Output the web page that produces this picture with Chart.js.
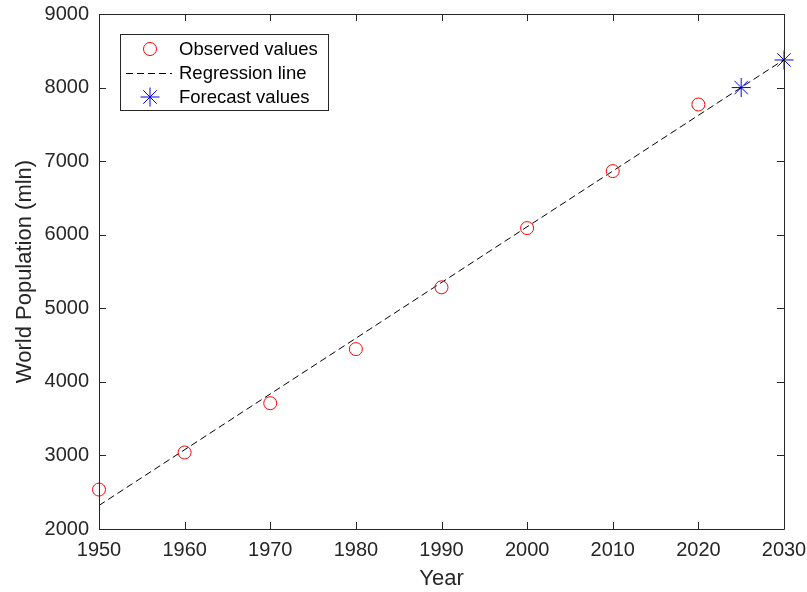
<!DOCTYPE html>
<html lang="en">
<head>
    <meta charset="UTF-8">
    <title>World Population Regression</title>
    <style>
        html, body {
            margin: 0;
            padding: 0;
            background: #fff;
        }
        #wrap {
            width: 807px;
            height: 592px;
        }
    </style>
</head>
<body>
    <div id="wrap"><canvas id="chart" width="807" height="592"></canvas></div>

    <script src="https://cdn.jsdelivr.net/npm/chart.js"></script>
    <script>
        // data
        const years = [1950, 1960, 1970, 1980, 1990, 2000, 2010, 2020];
        const observed = [2536, 3040, 3710, 4445, 5285, 6090, 6865, 7770];
        const regressionYears = [1950, 2030];
        const regressionValues = [2320, 8380];
        const forecastYears = [2025, 2030];
        const forecastValues = [8000, 8375];
        const xTicks = [1950, 1960, 1970, 1980, 1990, 2000, 2010, 2020, 2030];
        const yTicks = [2000, 3000, 4000, 5000, 6000, 7000, 8000, 9000];

        const FONT = "'Liberation Sans', Arial, sans-serif";
        const AXIS = '#262626';

        function pts(xs, ys) {
            return xs.map((x, i) => ({ x: x, y: ys[i] }));
        }

        // no extra room for edge labels, the plot box is fixed
        function noPad(s) {
            s.paddingTop = 0;
            s.paddingBottom = 0;
            s.paddingLeft = 0;
            s.paddingRight = 0;
        }

        // matlab style box with inward ticks
        const boxPlugin = {
            id: 'box',
            afterDatasetsDraw(chart) {
                const ctx = chart.ctx;
                const a = chart.chartArea;
                const xs = chart.scales.x, ys = chart.scales.y;
                const len = 7;
                ctx.save();
                ctx.strokeStyle = AXIS;
                ctx.lineWidth = 1;
                ctx.beginPath();
                ctx.rect(Math.round(a.left) + 0.5, Math.round(a.top) + 0.5,
                    Math.round(a.right - a.left), Math.round(a.bottom - a.top));
                xTicks.forEach(v => {
                    const px = Math.round(xs.getPixelForValue(v)) + 0.5;
                    ctx.moveTo(px, a.bottom); ctx.lineTo(px, a.bottom - len);
                    ctx.moveTo(px, a.top); ctx.lineTo(px, a.top + len);
                });
                yTicks.forEach(v => {
                    const py = Math.round(ys.getPixelForValue(v)) + 0.5;
                    ctx.moveTo(a.left, py); ctx.lineTo(a.left + len, py);
                    ctx.moveTo(a.right, py); ctx.lineTo(a.right - len, py);
                });
                ctx.stroke();
                ctx.restore();
            }
        };

        // legend box in the top left of the axes
        const legendPlugin = {
            id: 'boxLegend',
            afterDraw(chart) {
                const ctx = chart.ctx;
                const bx = 120.5, by = 34.5, bw = 208, bh = 76;
                ctx.save();
                ctx.fillStyle = '#fff';
                ctx.fillRect(bx, by, bw, bh);
                ctx.strokeStyle = AXIS;
                ctx.lineWidth = 1;
                ctx.strokeRect(bx, by, bw, bh);
                const rows = [49, 73, 97];
                chart.data.datasets.forEach((ds, i) => {
                    const y = rows[i];
                    if (ds.showLine) {
                        ctx.beginPath();
                        ctx.setLineDash(ds.borderDash);
                        ctx.strokeStyle = ds.borderColor;
                        ctx.lineWidth = ds.borderWidth;
                        ctx.moveTo(126, y + 0.5);
                        ctx.lineTo(172, y + 0.5);
                        ctx.stroke();
                        ctx.setLineDash([]);
                    } else {
                        ctx.strokeStyle = ds.pointBorderColor;
                        ctx.fillStyle = 'rgba(0,0,0,0)';
                        ctx.lineWidth = ds.pointBorderWidth;
                        Chart.helpers.drawPoint(ctx, {
                            pointStyle: ds.pointStyle,
                            radius: ds.pointRadius,
                            borderWidth: ds.pointBorderWidth,
                            rotation: 0
                        }, 150, y);
                    }
                    ctx.fillStyle = '#000';
                    ctx.font = '18.5px ' + FONT;
                    ctx.textBaseline = 'middle';
                    ctx.textAlign = 'left';
                    ctx.fillText(ds.label, 179, y + 1);
                });
                ctx.restore();
            }
        };

        const ctx = document.getElementById('chart').getContext('2d');
        new Chart(ctx, {
            type: 'scatter',
            data: {
                datasets: [{
                    label: 'Observed values',
                    data: pts(years, observed),
                    pointStyle: 'circle',
                    pointRadius: 6.5,
                    pointBorderWidth: 1,
                    pointBorderColor: '#ff0000',
                    pointBackgroundColor: 'rgba(0,0,0,0)',
                    showLine: false,
                    clip: false
                }, {
                    label: 'Regression line',
                    data: pts(regressionYears, regressionValues),
                    showLine: true,
                    borderColor: '#000',
                    borderWidth: 1,
                    borderDash: [7, 4],
                    pointRadius: 0,
                    fill: false
                }, {
                    label: 'Forecast values',
                    data: pts(forecastYears, forecastValues),
                    pointStyle: 'star',
                    pointRadius: 9.5,
                    pointBorderWidth: 1,
                    pointBorderColor: '#0000ff',
                    pointBackgroundColor: '#0000ff',
                    showLine: false,
                    clip: false
                }]
            },
            options: {
                responsive: false,
                animation: false,
                layout: { padding: { top: 14, right: 23, left: 0, bottom: 0 } },
                plugins: {
                    legend: { display: false },
                    tooltip: { enabled: false }
                },
                scales: {
                    x: {
                        type: 'linear',
                        min: 1950,
                        max: 2030,
                        afterBuildTicks: s => { s.ticks = xTicks.map(v => ({ value: v })); },
                        afterFit: s => { s.height = 63; noPad(s); },
                        grid: { display: false, drawTicks: false },
                        border: { display: false },
                        ticks: {
                            color: AXIS,
                            font: { family: FONT, size: 20 },
                            padding: 9,
                            maxRotation: 0,
                            callback: v => String(v)
                        },
                        title: {
                            display: true,
                            text: 'Year',
                            color: AXIS,
                            font: { family: FONT, size: 22 },
                            padding: { top: 4, bottom: 0 }
                        }
                    },
                    y: {
                        min: 2000,
                        max: 9000,
                        afterBuildTicks: s => { s.ticks = yTicks.map(v => ({ value: v })); },
                        afterFit: s => { s.width = 99; noPad(s); },
                        grid: { display: false, drawTicks: false },
                        border: { display: false },
                        ticks: {
                            color: AXIS,
                            font: { family: FONT, size: 20 },
                            padding: 10,
                            callback: v => String(v)
                        },
                        title: {
                            display: true,
                            text: 'World Population (mln)',
                            color: AXIS,
                            font: { family: FONT, size: 22 },
                            padding: { top: 12, bottom: 0 }
                        }
                    }
                }
            },
            plugins: [boxPlugin, legendPlugin]
        });
    </script>
</body>
</html>
